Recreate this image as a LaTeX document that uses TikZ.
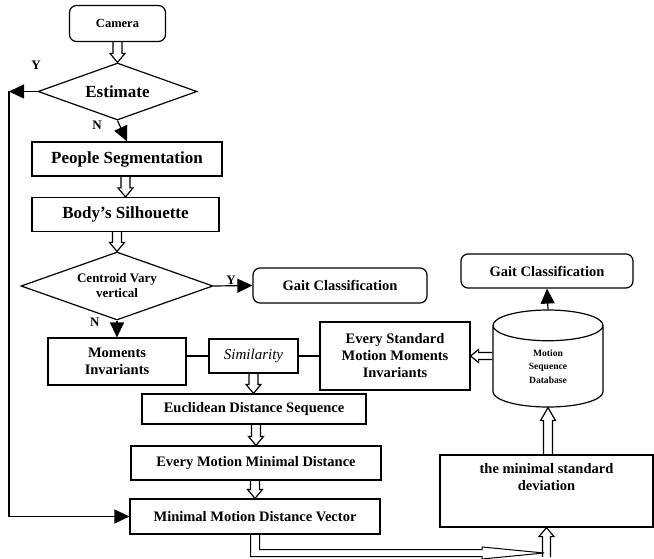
\documentclass[tikz,border=0pt]{standalone}
\usepackage{fontspec}
\setmainfont{Liberation Serif}
\usetikzlibrary{arrows.meta,shapes.geometric,positioning,calc}

\newcommand{\bigfont}{\bfseries\fontsize{17}{20}\selectfont}
\newcommand{\midfont}{\bfseries\fontsize{14.5}{17}\selectfont}
\newcommand{\decfont}{\bfseries\fontsize{13}{15}\selectfont}
\newcommand{\camfont}{\bfseries\fontsize{12.5}{15}\selectfont}
\newcommand{\dbfont}{\bfseries\fontsize{9.6}{13.5}\selectfont}

% block arrow: shaft half width, head half width, head length
\tikzset{arrshaft/.store in=\hshaft, arrhead/.store in=\hhead, arrlen/.store in=\hlen,
    arrshaft=4.5pt, arrhead=7.5pt, arrlen=9pt}

\begin{document}
\begin{tikzpicture}[x=1pt,y=-1pt,line width=1.2pt,
    box/.style={draw,rectangle,inner sep=0pt,align=center,font=\midfont},
    rbox/.style={box,rounded corners=7pt},
    decision/.style={draw,diamond,aspect=2.8,inner sep=0pt,align=center},
    dbase/.style={draw,cylinder,shape border rotate=90,aspect=0.8,inner sep=0pt,align=center,font=\dbfont},
    hollow/.style={line width=1pt,to path={
        ($(\tikztostart)!\hshaft!-90:(\tikztotarget)$)
        -- ($(\tikztotarget)!\hlen!(\tikztostart)!\hshaft!90:(\tikztostart)$)
        -- ($(\tikztotarget)!\hlen!(\tikztostart)!\hhead!90:(\tikztostart)$)
        -- (\tikztotarget)
        -- ($(\tikztotarget)!\hlen!(\tikztostart)!\hhead!-90:(\tikztostart)$)
        -- ($(\tikztotarget)!\hlen!(\tikztostart)!\hshaft!-90:(\tikztostart)$)
        -- ($(\tikztostart)!\hshaft!90:(\tikztotarget)$)}},
    pointer/.style={-{Triangle[length=15pt,width=14pt]}},
    yn/.style={font=\decfont,inner sep=1pt}]
    \useasboundingbox (0,0) rectangle (654,559);
    % left column
    \node[rbox, font=\camfont, minimum width=96, minimum height=36] (cam) at (117.5,23.5) {Camera};
    \node[decision, font=\bigfont, minimum width=159, minimum height=57] (est) at (117.5,91.5) {Estimate};
    \node[box, font=\bigfont, minimum width=190, minimum height=34] (seg) at (127,159) {People Segmentation};
    \node[box, font=\bigfont, minimum width=187, minimum height=34] (sil) at (125.5,214.5) {Body’s Silhouette};
    \node[decision, font=\decfont, minimum width=192, minimum height=68] (cen) at (117,286) {Centroid Vary\\vertical};
    \node[rbox, minimum width=174, minimum height=35] (gait1) at (340,285.5) {Gait Classification};
    \node[box, minimum width=138, minimum height=47] (mom) at (117,361.5) {Moments\\Invariants};
    \node[box, font=\itshape\fontsize{15}{18}\selectfont, minimum width=89, minimum height=34] (sim) at (253.5,356) {Similarity};
    \node[box, minimum width=150, minimum height=68] (esm) at (395,356) {Every Standard\\Motion Moments\\Invariants};
    \node[box, minimum width=224, minimum height=30] (euc) at (254,409) {Euclidean Distance Sequence};
    \node[box, minimum width=250, minimum height=34] (emd) at (256,463) {Every Motion Minimal Distance};
    \node[box, minimum width=250, minimum height=35] (mmdv) at (255,516.5) {Minimal Motion Distance Vector};
    % right column
    \node[rbox, minimum width=172, minimum height=34] (gait2) at (547,271) {Gait Classification};
    \node[dbase, minimum width=110, minimum height=97] (db) at (548,366.5) {Motion\\Sequence\\Database};
    \node[box, minimum width=213, minimum height=72,
        label={[font=\midfont,align=center,anchor=north,inner sep=0pt,yshift=-8pt]north:{the minimal standard\\deviation}}] (std) at (546.5,491) {};
    \coordinate (back) at (9,91.5);
    \coordinate (bturn) at (544,553);
    \coordinate (bup) at (546.5,557);

    % connectors
    \draw (cam.south) to[hollow] (est.north);
    \draw[pointer] (est.south) -- node[yn, pos=0.2, left=16pt]{N} (seg.north);
    \draw[pointer] (est.west) -- node[yn, pos=0.05, above=20pt]{Y} (back);
    \draw[pointer] (back) |- (mmdv.west);
    \draw (seg.south -| sil.north) to[hollow] (sil.north);
    \draw (sil.south -| cen.north) to[hollow] (cen.north);
    \draw[pointer] (cen.east) -- node[yn, midway, above, xshift=-2pt]{Y} (gait1.west);
    \draw[pointer] (cen.south) -- node[yn, pos=0.1, left=16pt]{N} (mom.north);
    \draw (sim.west) -- (sim.west -| mom.east);
    \draw (sim.east) -- (sim.east -| esm.west);
    \draw (sim.south) to[hollow] (sim.south |- euc.north);
    \draw (euc.south -| emd.north) to[hollow] (emd.north);
    \draw (emd.south -| mmdv.north) to[hollow] (mmdv.north);
    % bent arrow under the vector box
    \draw[line width=1pt] ($(mmdv.south)+(-4.5,0)$) |- ($(bturn)+(-62,3.5)$) -- ++(0,2.5) -- (bturn)
        -- ($(bturn)+(-62,-6)$) -- ++(0,2.5) -| ($(mmdv.south)+(4.5,0)$);
    \draw (bup) to[hollow, arrshaft=4pt] (std.south);
    \draw (std.north -| db.south) to[hollow, arrlen=13pt] (db.south);
    \draw (esm.east -| db.west) to[hollow, arrshaft=3.5pt, arrhead=6.5pt, arrlen=8pt] (esm.east);
    \draw[pointer] (db.north) -- (gait2.south);
\end{tikzpicture}
\end{document}
